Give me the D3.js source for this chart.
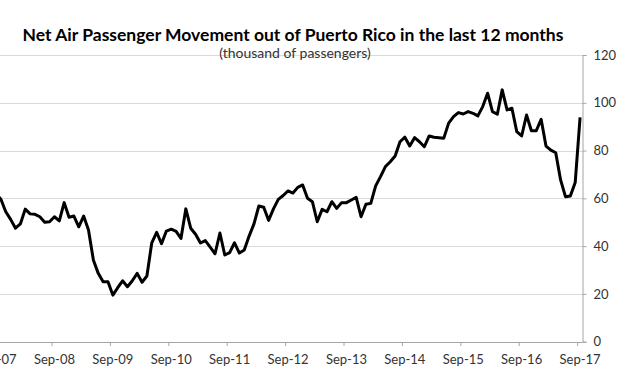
<!DOCTYPE html>
<html>
<head>
<meta charset="utf-8">
<script src="https://cdn.jsdelivr.net/npm/d3@7"></script>
<style>
  html, body { margin: 0; padding: 0; background: #fff; }
  svg { display: block; }
  text { font-family: Lato, "Open Sans", sans-serif; }
</style>
</head>
<body>
<svg id="chart" width="626" height="386"></svg>
<script>
// ---- data ----
const title = "Net Air Passenger Movement out of Puerto Rico in the last 12 months";
const subtitle = "(thousand of passengers)";
const startMonth = new Date(2007, 8, 1); // Sep-07
const values = [
  62.0, 59.6, 54.4, 51.2, 47.5, 49.3, 55.5, 53.5, 53.3, 52.3, 50.0, 50.2,
  52.3, 50.6, 58.2, 52.1, 52.6, 48.1, 52.6, 46.8, 34.2, 28.6, 25.1, 25.1,
  19.5, 22.6, 25.5, 23.0, 25.5, 28.6, 24.9, 27.5, 41.4, 45.8, 41.0, 46.3,
  47.1, 46.2, 43.2, 55.6, 47.5, 45.0, 41.3, 42.3, 39.6, 36.8, 45.5, 36.3,
  37.3, 41.4, 37.1, 38.4, 44.2, 49.3, 56.8, 56.3, 50.8, 55.6, 59.6, 61.2,
  63.1, 62.2, 64.6, 65.6, 60.0, 58.6, 50.2, 55.4, 54.4, 58.6, 55.8, 58.2,
  58.2, 59.3, 60.4, 52.3, 57.5, 57.9, 65.2, 69.1, 73.3, 75.3, 77.7, 83.7,
  85.6, 81.9, 85.4, 83.7, 81.6, 86.1, 85.6, 85.4, 85.2, 91.5, 94.2, 95.9,
  95.3, 96.3, 95.6, 94.5, 98.4, 104.0, 96.3, 95.2, 105.4, 97.0, 97.7, 87.9,
  86.1, 94.9, 88.3, 88.3, 93.1, 81.9, 80.2, 79.1, 67.7, 60.7, 61.0, 66.6,
  93.9
];
const yTicks = [0, 20, 40, 60, 80, 100, 120];
const xTickLabels = ["Sep-07","Sep-08","Sep-09","Sep-10","Sep-11","Sep-12",
                     "Sep-13","Sep-14","Sep-15","Sep-16","Sep-17"];

// ---- layout ----
const fmt = d3.timeFormat("%b-%y");
const months = values.map((v, i) => d3.timeMonth.offset(startMonth, i));
const cats = months.map(fmt);

const plotLeft = -6.4, plotRight = 582.5, plotTop = 55, plotBottom = 341.7;
const svg = d3.select("#chart");

const x = d3.scalePoint().domain(cats).range([plotLeft, plotRight]).padding(0.5);
const y = d3.scaleLinear().domain([0, 120]).range([plotBottom, plotTop]);
const step = x.step();

// gridlines
svg.append("g").selectAll("line").data(yTicks.filter(d => d > 0)).join("line")
  .attr("x1", plotLeft).attr("x2", plotRight)
  .attr("y1", d => Math.round(y(d)) + 0.5).attr("y2", d => Math.round(y(d)) + 0.5)
  .attr("stroke", "#d9d9d9").attr("stroke-width", 1);

// right y axis
const yAxis = d3.axisRight(y).tickValues(yTicks).tickSize(4).tickPadding(7);
const gy = svg.append("g").attr("transform", `translate(${plotRight},0)`).call(yAxis);
gy.select(".domain").attr("stroke", "#a6a6a6");
gy.selectAll(".tick line").attr("stroke", "#a6a6a6");
gy.selectAll(".tick text").attr("fill", "#333").style("font-size", "13px")
  .style("font-family", "Lato, 'Open Sans', sans-serif");

// bottom x axis: ticks between categories, labels on categories
const labelCats = cats.filter(c => xTickLabels.includes(c));
const gx = svg.append("g");
gx.append("line")
  .attr("x1", plotLeft).attr("x2", plotRight)
  .attr("y1", Math.round(plotBottom) + 0.5).attr("y2", Math.round(plotBottom) + 0.5)
  .attr("stroke", "#a6a6a6");
gx.selectAll("line.tk").data(labelCats).join("line").attr("class", "tk")
  .attr("x1", d => x(d) - step / 2).attr("x2", d => x(d) - step / 2)
  .attr("y1", Math.round(plotBottom)).attr("y2", Math.round(plotBottom) + 4)
  .attr("stroke", "#a6a6a6");
gx.selectAll("text").data(labelCats).join("text")
  .attr("x", d => x(d)).attr("y", 364)
  .attr("text-anchor", "middle")
  .attr("fill", "#333").style("font-size", "13px")
  .text(d => d);

// line
const line = d3.line().x((d, i) => x(cats[i])).y(d => y(d));
svg.append("path").datum(values)
  .attr("d", line)
  .attr("fill", "none").attr("stroke", "#000")
  .attr("stroke-width", 3).attr("stroke-linejoin", "round");

// titles
svg.append("text").attr("x", 293).attr("y", 41).attr("text-anchor", "middle")
  .style("font-size", "17.5px").style("font-weight", "bold").attr("fill", "#000")
  .text(title);
svg.append("text").attr("x", 295).attr("y", 58).attr("text-anchor", "middle")
  .style("font-size", "14px").attr("fill", "#333")
  .text(subtitle);
</script>
</body>
</html>
